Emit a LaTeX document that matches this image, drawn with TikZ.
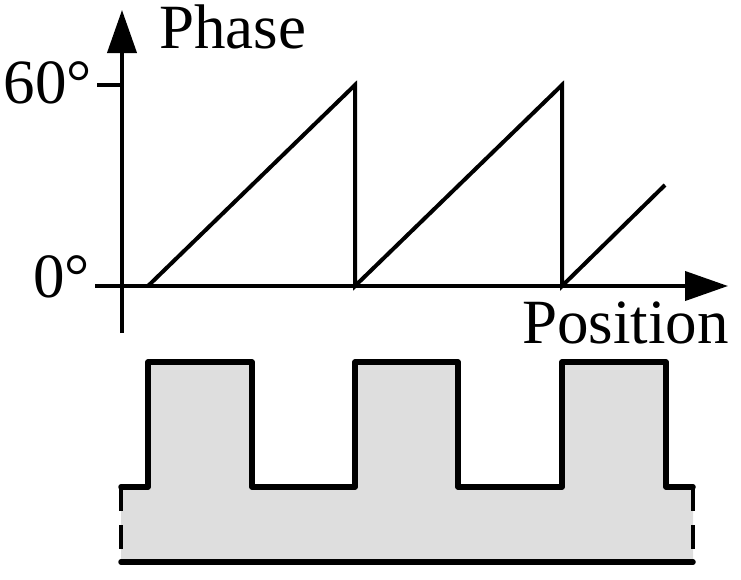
\documentclass[tikz,border=0pt]{standalone}
\usepackage{fontspec}
\setmainfont{Liberation Serif}
\usetikzlibrary{arrows.meta}
\begin{document}
\begin{tikzpicture}[x=1pt,y=-1pt,
  axis/.style={line width=4pt,-{Triangle[length=43pt,width=29pt]}},
  plotline/.style={line width=4pt,line join=miter},
  wave/.style={line width=5.5pt,line join=round,line cap=round},
  dashside/.style={line width=4pt,dash pattern=on 24pt off 14pt},
  lbl/.style={inner sep=0pt,font=\fontsize{63}{65}\selectfont}]
\useasboundingbox (0,0) rectangle (741,579);
% coordinates
\coordinate (ybot) at (122,333);
\coordinate (ytop) at (122,10);
\coordinate (xleft) at (95,286);
\coordinate (xright) at (728,286);
\coordinate (t1) at (97,85);
\coordinate (t2) at (122,85);
% axes
\draw[axis] (ybot) -- (ytop);
\draw[axis] (xleft) -- (xright);
\draw[line width=4pt] (t1) -- (t2);
% labels
\node[lbl,anchor=base west] (phase) at (159,48) {Phase};
\node[lbl,anchor=base east] (l60) at (92,103) {60°};
\node[lbl,anchor=base east] (l0) at (90,297) {0°};
\node[lbl,anchor=base west] (pos) at (522,343) {Position};
% sawtooth
\draw[plotline] (148,286) -- (355,85) -- (355,286) -- (562,85) -- (562,286) -- (665,185);
% waveform fill
\fill[fill={rgb,255:red,222;green,222;blue,222}]
  (121,487) -- (148,487) -- (148,362) -- (252,362) -- (252,487) -- (355,487)
  -- (355,362) -- (458,362) -- (458,487) -- (562,487) -- (562,362) -- (666,362)
  -- (666,487) -- (693,487) -- (693,562) -- (121,562) -- cycle;
\draw[wave] (121,487) -- (148,487) -- (148,362) -- (252,362) -- (252,487) -- (355,487)
  -- (355,362) -- (458,362) -- (458,487) -- (562,487) -- (562,362) -- (666,362)
  -- (666,487) -- (693,487);
\draw[wave] (121,562) -- (693,562);
\draw[dashside] (121,487) -- (121,562);
\draw[dashside] (693,487) -- (693,562);
\end{tikzpicture}
\end{document}
